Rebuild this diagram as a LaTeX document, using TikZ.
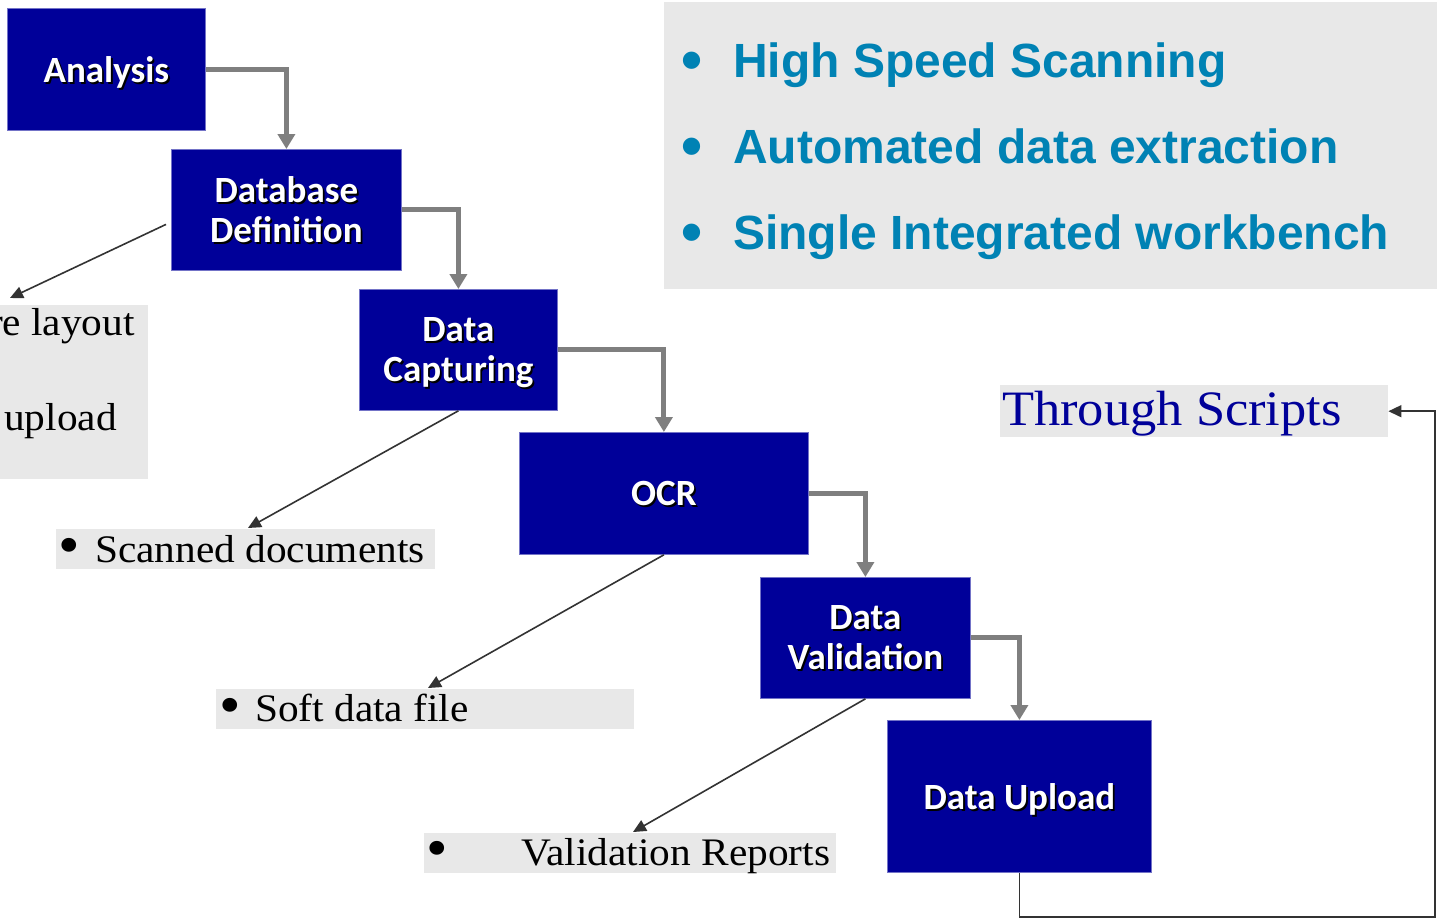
\documentclass[tikz,border=0pt]{standalone}
\usepackage{fontspec}
\setmainfont{Liberation Serif}
\newfontfamily\calfont{Carlito}
\newfontfamily\palfont[FakeStretch=1.06]{Liberation Serif}
\newfontfamily\arialfont{Liberation Sans}
\usetikzlibrary{arrows.meta}
\definecolor{navy}{RGB}{0,0,153}
\definecolor{boxgray}{RGB}{232,232,232}
\definecolor{flowgray}{RGB}{127,127,127}
\definecolor{thinline}{RGB}{51,51,51}
\definecolor{hiblue}{RGB}{0,130,180}
\newcommand\shd[1]{\makebox[0pt][l]{\hspace{1.8pt}\raisebox{-1.8pt}{\color{black}#1}}#1}
\tikzset{
  proc/.style={draw=navy!55!white, line width=0.8pt, fill=navy, text=white,
    font=\calfont\bfseries\fontsize{37}{40}\selectfont, align=center,
    inner sep=0pt, text depth=0pt, anchor=north west},
  flow/.style={draw=flowgray, line width=5pt,
    -{Triangle[width=17pt,length=15pt]}},
  thinarrow/.style={draw=thinline, line width=1.6pt,
    -{Triangle[width=12pt,length=13pt]}},
  gbox/.style={fill=boxgray, draw=none, inner sep=0pt, anchor=north west},
  ptext/.style={font=\palfont\fontsize{39}{44}\selectfont, inner sep=0pt, text=black},
  pbul/.style={font=\palfont\fontsize{58}{60}\selectfont, inner sep=0pt, text=black, anchor=center},
  hitext/.style={font=\arialfont\bfseries\fontsize{48}{52}\selectfont, inner sep=0pt, text=hiblue, anchor=base west},
  hibul/.style={font=\arialfont\bfseries\fontsize{60}{64}\selectfont, inner sep=0pt, text=hiblue, anchor=center},
}
\begin{document}
\begin{tikzpicture}[x=1pt,y=-1pt]
\useasboundingbox (0,0) rectangle (1437,919);
\clip (0,0) rectangle (1437,919);
\fill[white] (0,0) rectangle (1437,919);

% top-right highlight box
\node[gbox, minimum width=773pt, minimum height=287pt] (hibox) at (664,2) {};
\node[hibul] (hb1) at (692,66) {•};
\node[hitext] (ht1) at (733,77) {High Speed Scanning};
\node[hibul] (hb2) at (692,152) {•};
\node[hitext] (ht2) at (733,163) {Automated data extraction};
\node[hibul] (hb3) at (692,238) {•};
\node[hitext] (ht3) at (733,249) {Single Integrated workbench};

% gray label boxes
\node[gbox, minimum width=148pt, minimum height=174pt] (lbox) at (0,305) {};
\node[ptext, anchor=base east] (lt1) at (135,335) {re layout};
\node[ptext, anchor=base east] (lt2) at (117,430) {upload};

\node[gbox, minimum width=379pt, minimum height=40pt] (scanbox) at (56,529) {};
\node[pbul] (sb) at (69,551) {•};
\node[ptext, anchor=base west] (st) at (95,562) {Scanned documents};

\node[gbox, minimum width=418pt, minimum height=40pt] (softbox) at (216,689) {};
\node[pbul] (fb) at (230,711) {•};
\node[ptext, anchor=base west] (ft) at (255,721) {Soft data file};

\node[gbox, minimum width=412pt, minimum height=40pt] (valbox) at (424,833) {};
\node[pbul] (vb) at (437,854) {•};
\node[ptext, anchor=base west] (vt) at (521,865) {Validation Reports};

\node[gbox, minimum width=388pt, minimum height=52pt] (tsbox) at (1000,385) {};
\node[ptext, anchor=base west, text=navy, font=\palfont\fontsize{49.5}{54}\selectfont] (tst) at (1002,425) {Through Scripts};

% process boxes
\node[proc, minimum width=198pt, minimum height=122pt] (an) at (7,8) {\shd{Analysis}};
\node[proc, minimum width=230pt, minimum height=121pt] (dd) at (171,149) {\shd{Database}\\\shd{Definition}};
\node[proc, minimum width=198pt, minimum height=121pt] (dc) at (359,289) {\shd{Data}\\\shd{Capturing}};
\node[proc, minimum width=289pt, minimum height=122pt] (ocr) at (519,432) {\shd{OCR}};
\node[proc, minimum width=210pt, minimum height=121pt] (dv) at (760,577) {\shd{Data}\\\shd{Validation}};
\node[proc, minimum width=264pt, minimum height=152pt] (du) at (887,720) {\shd{Data Upload}};

% flow connectors
\draw[flow] (an.east) -| (dd.north);
\draw[flow] (dd.east) -| (dc.north);
\draw[flow] (dc.east) -| (ocr.north);
\draw[flow] (ocr.east) -| (dv.north);
\draw[flow] (dv.east) -| (du.north);

% output connectors
\coordinate (t1) at (10,298);
\coordinate (t2) at (248,528);
\coordinate (t3) at (428,688);
\coordinate (t4) at (633,832);
\coordinate (c1) at (1435,917);
\draw[thinarrow] ([xshift=-5pt,yshift=-14.5pt]dd.west) -- (t1);
\draw[thinarrow] (dc.south) -- (t2);
\draw[thinarrow] (ocr.south) -- (t3);
\draw[thinarrow] (dv.south) -- (t4);
\draw[thinarrow] (du.south) |- (c1) |- (tsbox.east);
\end{tikzpicture}
\end{document}
